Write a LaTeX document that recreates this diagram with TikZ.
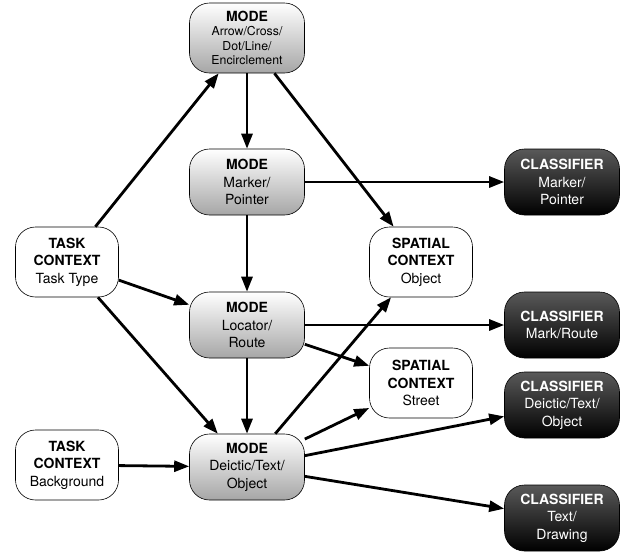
\documentclass[tikz,border=0pt]{standalone}
\usepackage{fontspec}
\setmainfont{TeX Gyre Heros}
\usetikzlibrary{arrows.meta}

\tikzset{
  box/.style={draw=black,line width=0.6pt,rounded corners=20pt,align=center,
    minimum width=115pt,minimum height=66pt,inner sep=1pt,
    font=\fontsize{14}{17.5}\selectfont},
  modebox/.style={box,top color=white,bottom color=black!35},
  ctxbox/.style={box,fill=white,minimum width=103pt,minimum height=70pt},
  clsbox/.style={box,top color=black!65,bottom color=black,text=white},
  link/.style={line width=2.8pt,-{Triangle[length=15pt,width=11pt]}}
}

\begin{document}
\begin{tikzpicture}[x=1pt,y=-1pt]
  \useasboundingbox (0,0) rectangle (624,555);

  \node[modebox,minimum height=70pt,font=\fontsize{12.3}{14.5}\selectfont]
    (modeTop) at (247,38) {\textbf{\fontsize{14}{15.5}\selectfont MODE}\\Arrow/Cross/\\Dot/Line/\\Encirclement};
  \node[modebox] (modeMarker) at (247,182) {\textbf{MODE}\\Marker/\\Pointer};
  \node[modebox] (modeLocator) at (247,325) {\textbf{MODE}\\Locator/\\Route};
  \node[modebox] (modeDeictic) at (247,467) {\textbf{MODE}\\Deictic/Text/\\Object};

  \node[ctxbox] (taskType) at (67,262) {\textbf{TASK}\\\textbf{CONTEXT}\\Task Type};
  \node[ctxbox] (taskBack) at (67,465) {\textbf{TASK}\\\textbf{CONTEXT}\\Background};
  \node[ctxbox] (spatObject) at (421,262) {\textbf{SPATIAL}\\\textbf{CONTEXT}\\Object};
  \node[ctxbox] (spatStreet) at (421,383) {\textbf{SPATIAL}\\\textbf{CONTEXT}\\Street};

  \node[clsbox] (clsMarker) at (562,182) {\textbf{CLASSIFIER}\\Marker/\\Pointer};
  \node[clsbox] (clsRoute) at (562,325) {\textbf{CLASSIFIER}\\Mark/Route};
  \node[clsbox] (clsDeictic) at (562,405) {\textbf{CLASSIFIER}\\Deictic/Text/\\Object};
  \node[clsbox] (clsText) at (562,518) {\textbf{CLASSIFIER}\\Text/\\Drawing};

  \draw[link] (taskType) -- (modeTop);
  \draw[link] (taskType) -- (modeLocator);
  \draw[link] (taskType) -- (modeDeictic);
  \draw[link] (taskBack) -- (modeDeictic);
  \draw[link] (modeTop) -- (modeMarker);
  \draw[link] (modeTop) -- (spatObject);
  \draw[link] (modeMarker) -- (modeLocator);
  \draw[link] (modeMarker) -- (clsMarker);
  \draw[link] (modeLocator) -- (modeDeictic);
  \draw[link] (modeLocator) -- (clsRoute);
  \draw[link] (modeLocator) -- (spatStreet);
  \draw[link] (modeDeictic) -- (spatObject);
  \draw[link] (modeDeictic) -- (spatStreet);
  \draw[link] (modeDeictic) -- (clsDeictic);
  \draw[link] (modeDeictic) -- (clsText);
\end{tikzpicture}
\end{document}
